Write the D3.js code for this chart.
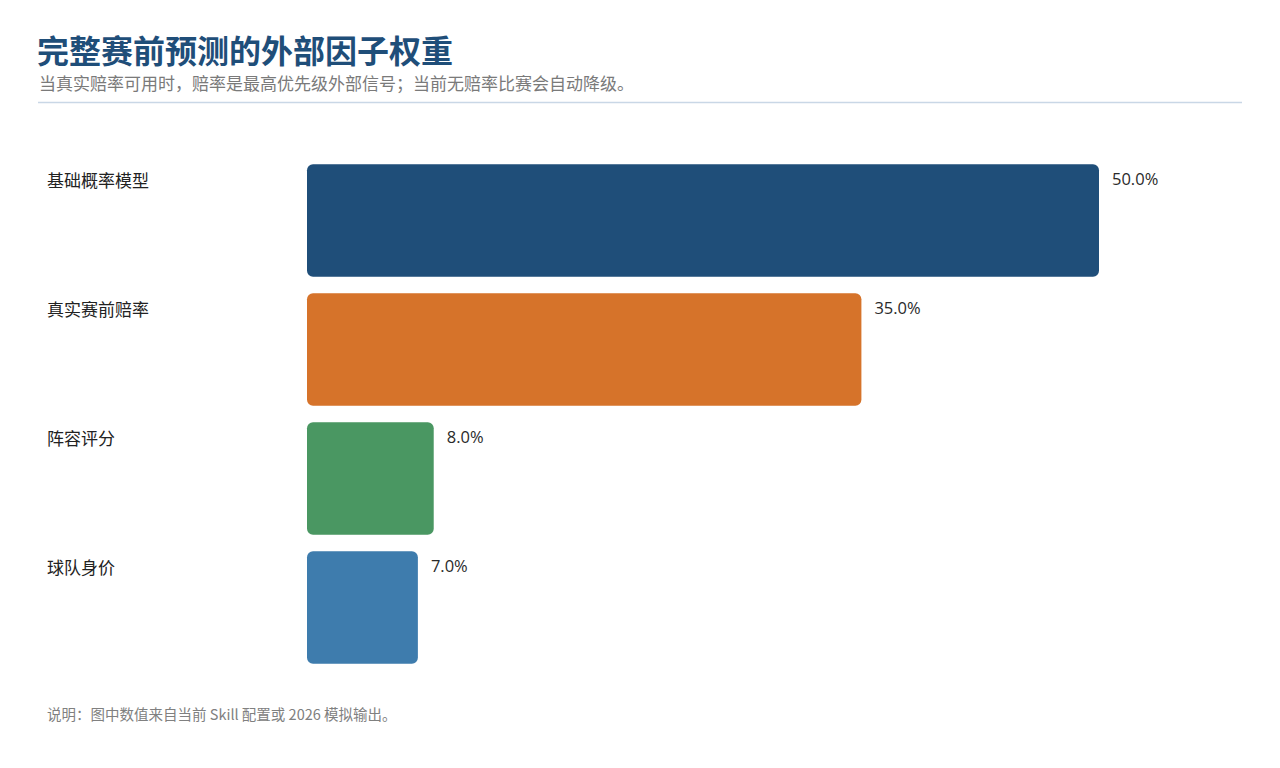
<!DOCTYPE html>
<html>
<head>
<meta charset="utf-8">
<script src="https://cdn.jsdelivr.net/npm/d3@7"></script>
<style>
  html, body { margin: 0; padding: 0; background: #fff; }
  svg { display: block; font-family: "Noto Sans", "Noto Sans CJK SC", sans-serif; }
</style>
</head>
<body>
<div id="chart"></div>
<script>
// Chart data
const factors = ['基础概率模型', '真实赛前赔率', '阵容评分', '球队身价'];
const weights = [50.0, 35.0, 8.0, 7.0];
const barColors = ['#1f4e79', '#d6732a', '#4a9762', '#3e7cad'];

const titleText = '完整赛前预测的外部因子权重';
const subtitleText = '当真实赔率可用时，赔率是最高优先级外部信号；当前无赔率比赛会自动降级。';
const noteText = '说明：图中数值来自当前 Skill 配置或 2026 模拟输出。';

const width = 1280;
const height = 768;

const svg = d3.select('#chart').append('svg')
  .attr('width', width)
  .attr('height', height);

// Header
svg.append('text')
  .attr('x', 37).attr('y', 63)
  .attr('font-size', 32).attr('font-weight', 700)
  .attr('fill', '#1f4e79')
  .style('font-family', '"Noto Sans CJK SC", sans-serif')
  .text(titleText);

svg.append('text')
  .attr('x', 39).attr('y', 90)
  .attr('font-size', 17)
  .attr('fill', '#7a7a7a')
  .style('font-family', '"Noto Sans CJK SC", sans-serif')
  .text(subtitleText);

svg.append('line')
  .attr('x1', 38).attr('x2', 1242)
  .attr('y1', 102.5).attr('y2', 102.5)
  .attr('stroke', '#c9d7e6').attr('stroke-width', 1.5);

// Scales
const x = d3.scaleLinear().domain([0, 50]).range([307, 1099]);
const y = d3.scaleBand()
  .domain(factors)
  .range([156, 672])
  .paddingInner(0.126)
  .paddingOuter(0.063);

const rows = factors.map((name, i) => ({ name, value: weights[i], color: barColors[i] }));

const g = svg.append('g').attr('class', 'bars');

g.selectAll('rect')
  .data(rows)
  .join('rect')
  .attr('x', x(0))
  .attr('y', (d) => y(d.name))
  .attr('width', (d) => x(d.value) - x(0))
  .attr('height', y.bandwidth())
  .attr('rx', 6).attr('ry', 6)
  .attr('fill', (d) => d.color);

// Category labels
g.selectAll('.cat-label')
  .data(rows)
  .join('text')
  .attr('class', 'cat-label')
  .attr('x', 47)
  .attr('y', (d) => y(d.name) + 23)
  .attr('font-size', 17)
  .attr('fill', '#222')
  .style('font-family', '"Noto Sans CJK SC", sans-serif')
  .text((d) => d.name);

// Value labels
g.selectAll('.val-label')
  .data(rows)
  .join('text')
  .attr('class', 'val-label')
  .attr('x', (d) => x(d.value) + 13)
  .attr('y', (d) => y(d.name) + 21)
  .attr('font-size', 16.5)
  .attr('fill', '#2a2a2a')
  .style('font-family', '"Open Sans", "Noto Sans", sans-serif')
  .text((d) => d.value.toFixed(1) + '%');

// Footnote
svg.append('text')
  .attr('x', 47).attr('y', 720)
  .attr('font-size', 14.5)
  .attr('fill', '#808080')
  .style('font-family', '"Noto Sans CJK SC", sans-serif')
  .text(noteText);
</script>
</body>
</html>
